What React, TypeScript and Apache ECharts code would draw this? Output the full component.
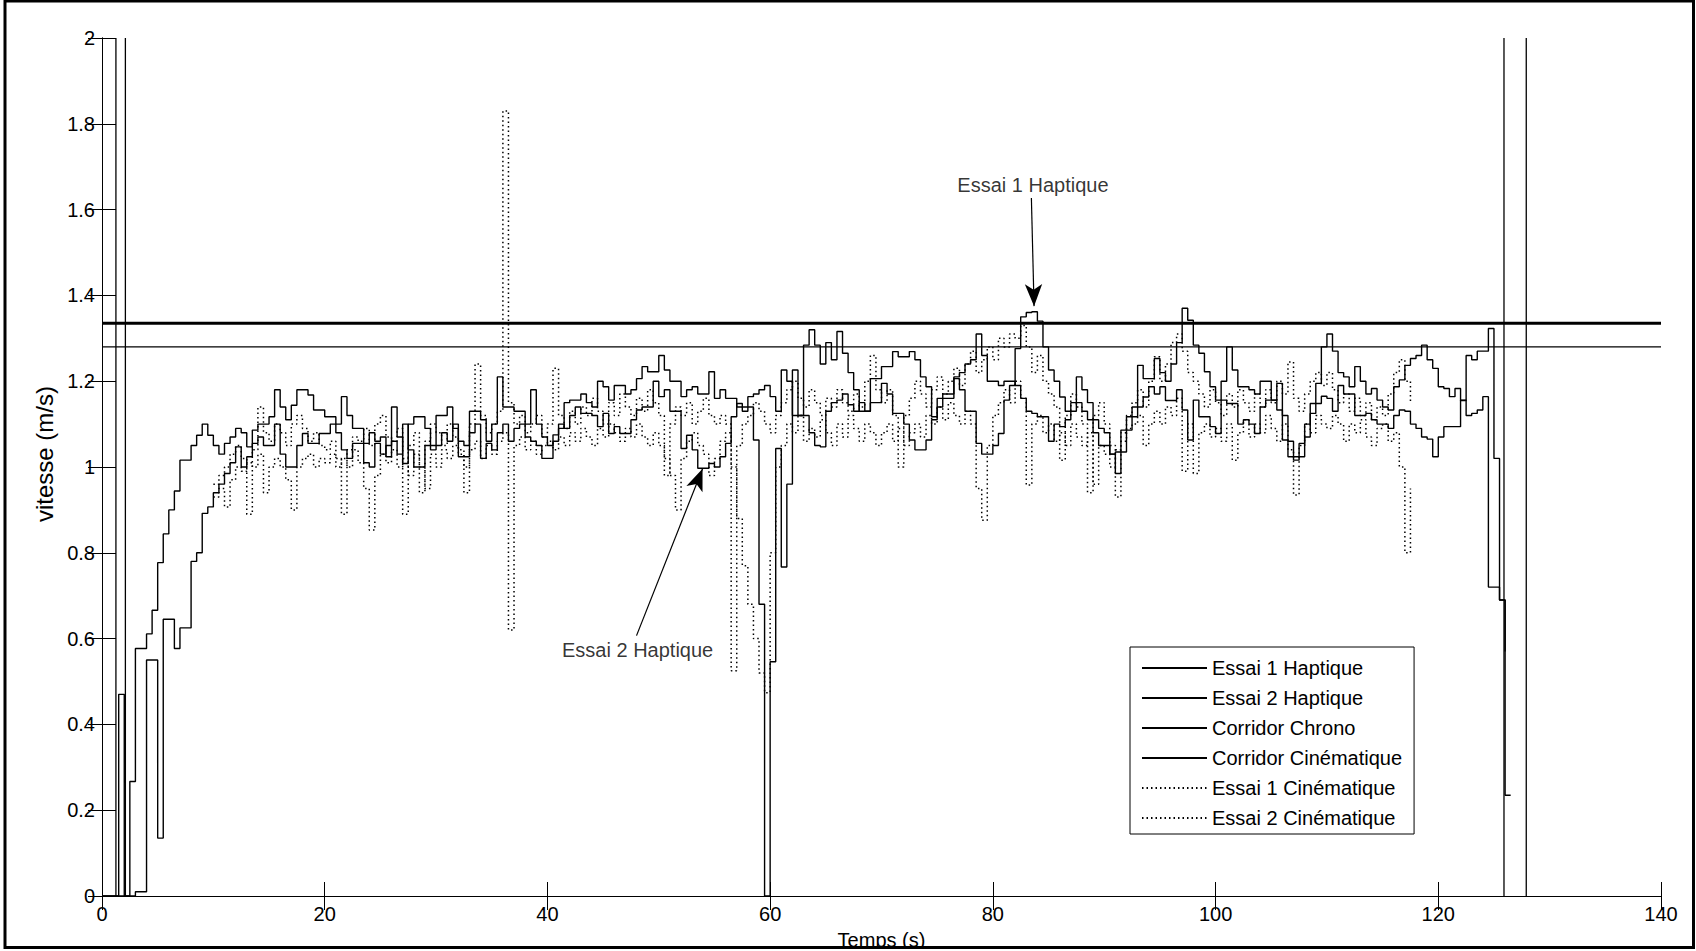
import React, { useEffect, useRef } from 'react';
import * as echarts from 'echarts';

// ---- sampling ----
const SAMPLE_STEP = 0.5; // s
const HAPTIQUE_START = 0; // s
const CINEMATIQUE_START = 10; // s

// ---- axes ----
const xMin = 0;
const xMax = 140;
const xInterval = 20;
const yMin = 0;
const yMax = 2;
const yInterval = 0.2;

// ---- series values (m/s), one value every 0.5 s ----
const essai1Haptique = [
  // 0–9.5
  0, 0, 0, 0.47, 0, 0.267, 0.577, 0.577, 0.611, 0.666, 0.777, 0.844, 0.9, 0.944, 1.016, 1.016, 1.05, 1.074, 1.1, 1.074,
  // 10–19.5
  1.05, 1.03, 1.055, 1.07, 1.09, 1.08, 1.047, 1.086, 1.1, 1.1, 1.117, 1.18, 1.14, 1.11, 1.144, 1.18, 1.18, 1.168, 1.133, 1.133,
  // 20–29.5
  1.117, 1.117, 1.1, 1.164, 1.12, 1.09, 1.09, 1.055, 1.08, 1.06, 1.07, 1.024, 1.14, 1.07, 1.008, 1.1, 1.117, 1.117, 1.09, 1.05,
  // 30–39.5
  1.12, 1.12, 1.14, 1.09, 1.024, 1.024, 1.13, 1.13, 1.11, 1.06, 1.1, 1.21, 1.14, 1.14, 1.13, 1.13, 1.1, 1.18, 1.1, 1.07,
  // 40–49.5
  1.05, 1.075, 1.09, 1.15, 1.156, 1.156, 1.17, 1.15, 1.14, 1.2, 1.187, 1.156, 1.19, 1.19, 1.17, 1.18, 1.206, 1.234, 1.222, 1.222,
  // 50–59.5
  1.26, 1.226, 1.2, 1.2, 1.164, 1.18, 1.187, 1.17, 1.17, 1.222, 1.16, 1.18, 1.16, 1.16, 1.14, 1.13, 1.164, 1.17, 1.18, 1.19,
  // 60–69.5
  1.164, 1.13, 1.226, 1.2, 1.12, 1.12, 1.12, 1.08, 1.05, 1.047, 1.13, 1.15, 1.156, 1.17, 1.145, 1.13, 1.15, 1.13, 1.15, 1.15,
  // 70–79.5
  1.195, 1.17, 1.125, 1.125, 1.1, 1.063, 1.04, 1.04, 1.063, 1.11, 1.16, 1.17, 1.17, 1.206, 1.18, 1.13, 1.13, 1.055, 1.03, 1.03,
  // 80–89.5
  1.05, 1.078, 1.156, 1.19, 1.276, 1.35, 1.36, 1.362, 1.34, 1.28, 1.226, 1.2, 1.163, 1.13, 1.13, 1.21, 1.18, 1.15, 1.11, 1.09,
  // 90–99.5
  1.08, 1.03, 0.985, 1.035, 1.086, 1.117, 1.237, 1.206, 1.206, 1.253, 1.22, 1.2, 1.24, 1.29, 1.37, 1.342, 1.284, 1.265, 1.222, 1.187,
  // 100–109.5
  1.156, 1.2, 1.28, 1.226, 1.187, 1.187, 1.18, 1.17, 1.2, 1.2, 1.156, 1.195, 1.12, 1.06, 1.024, 1.024, 1.07, 1.125, 1.195, 1.28,
  // 110–119.5
  1.31, 1.27, 1.22, 1.21, 1.187, 1.234, 1.2, 1.17, 1.183, 1.156, 1.14, 1.133, 1.187, 1.203, 1.237, 1.253, 1.26, 1.284, 1.25, 1.23,
  // 120–126.5
  1.187, 1.183, 1.164, 1.183, 1.155, 1.26, 1.25, 1.27, 1.27, 1.323, 1.02, 0.69, 0.235, 0.235,
];

const essai2Haptique = [
  // 0–9.5
  0, 0, 0, 0, 0, 0, 0.01, 0.01, 0.55, 0.55, 0.135, 0.645, 0.645, 0.577, 0.625, 0.625, 0.78, 0.8, 0.892, 0.907,
  // 10–19.5
  0.94, 0.96, 0.985, 1.01, 1.047, 1.0, 1.024, 1.055, 1.07, 1.05, 1.05, 1.1, 1.03, 1.0, 1.0, 1.05, 1.078, 1.055, 1.055, 1.078,
  // 20–29.5
  1.078, 1.1, 1.08, 1.04, 1.02, 1.055, 1.055, 1.01, 1.0, 1.055, 1.03, 1.05, 1.06, 1.03, 1.1, 1.04, 1.0, 1.0, 1.05, 1.04,
  // 30–39.5
  1.05, 1.08, 1.06, 1.1, 1.06, 1.05, 1.08, 1.1, 1.02, 1.055, 1.04, 1.08, 1.1, 1.06, 1.09, 1.1, 1.07, 1.06, 1.05, 1.02,
  // 40–49.5
  1.02, 1.06, 1.1, 1.09, 1.12, 1.14, 1.125, 1.125, 1.12, 1.094, 1.125, 1.078, 1.094, 1.078, 1.078, 1.11, 1.133, 1.14, 1.14, 1.2,
  // 50–59.5
  1.164, 1.18, 1.13, 1.13, 1.043, 1.074, 1.04, 0.997, 0.997, 1.008, 1.0, 1.024, 1.055, 1.117, 1.148, 1.14, 1.14, 1.063, 0.68, 0,
  // 60–69.5
  0.546, 1.043, 0.767, 0.96, 1.226, 1.12, 1.284, 1.32, 1.284, 1.24, 1.29, 1.25, 1.316, 1.265, 1.22, 1.18, 1.13, 1.13, 1.206, 1.206,
  // 70–79.5
  1.234, 1.234, 1.269, 1.257, 1.257, 1.269, 1.25, 1.21, 1.187, 1.117, 1.14, 1.16, 1.16, 1.21, 1.22, 1.24, 1.25, 1.31, 1.26, 1.2,
  // 80–89.5
  1.2, 1.19, 1.2, 1.2, 1.19, 1.16, 1.13, 1.125, 1.117, 1.117, 1.06, 1.1, 1.094, 1.11, 1.15, 1.15, 1.13, 1.11, 1.08, 1.05,
  // 90–99.5
  1.05, 1.03, 1.035, 1.086, 1.117, 1.14, 1.14, 1.163, 1.187, 1.17, 1.187, 1.155, 1.155, 1.18, 1.133, 1.063, 1.156, 1.117, 1.117, 1.094,
  // 100–109.5
  1.078, 1.156, 1.148, 1.148, 1.1, 1.11, 1.1, 1.078, 1.14, 1.156, 1.156, 1.133, 1.063, 1.024, 1.016, 1.055, 1.1, 1.148, 1.148, 1.165,
  // 110–119.5
  1.16, 1.13, 1.19, 1.17, 1.17, 1.12, 1.12, 1.125, 1.11, 1.1, 1.1, 1.09, 1.12, 1.133, 1.13, 1.1, 1.09, 1.07, 1.065, 1.024,
  // 120–126
  1.07, 1.094, 1.094, 1.094, 1.156, 1.12, 1.125, 1.133, 1.164, 0.72, 0.72, 0.69, 0.57,
];

const essai1Cinematique = [
  // 10–19.5
  0.96, 0.98, 1.0, 1.03, 1.05, 1.02, 0.89, 1.04, 1.14, 1.08, 1.06, 1.1, 1.08, 1.05, 1.1, 1.12, 1.09, 1.06, 1.08, 1.05,
  // 20–29.5
  1.04, 1.06, 1.02, 0.89, 1.04, 1.07, 1.06, 1.09, 1.05, 1.1, 1.12, 1.07, 1.06, 1.09, 0.89, 1.05, 1.08, 0.94, 1.06, 1.1,
  // 30–39.5
  1.08, 1.05, 1.1, 1.07, 1.04, 0.94, 1.1, 1.24, 1.12, 1.08, 1.1, 1.13, 1.83, 1.15, 1.1, 1.12, 1.08, 1.1, 1.12, 1.07,
  // 40–49.5
  1.1, 1.23, 1.12, 1.09, 1.13, 1.1, 1.14, 1.12, 1.16, 1.13, 1.1, 1.15, 1.12, 1.17, 1.14, 1.12, 1.16, 1.13, 1.18, 1.15,
  // 50–59.5
  1.12, 0.98, 1.1, 1.14, 1.12, 1.15, 1.1, 1.13, 1.16, 1.12, 1.1, 1.12, 1.1, 0.525, 1.05, 1.1, 1.12, 1.15, 1.13, 1.1,
  // 60–69.5
  1.08, 1.12, 1.15, 1.18, 1.2, 1.16, 1.14, 1.18, 1.15, 1.12, 1.16, 1.14, 1.18, 1.15, 1.13, 1.17, 1.14, 1.2, 1.26, 1.18,
  // 70–79.5
  1.15, 1.18, 1.12, 1.0, 1.12, 1.16, 1.2, 1.17, 1.14, 1.18, 1.21, 1.17, 1.2, 1.23, 1.19, 1.24, 1.27, 1.22, 1.25, 1.28,
  // 80–89.5
  1.25, 1.3, 1.28, 1.31, 1.3, 1.33, 1.28, 1.22, 1.26, 1.2, 1.17, 1.14, 1.016, 1.12, 1.17, 1.14, 1.1, 0.94, 1.12, 1.15,
  // 90–99.5
  1.1, 1.05, 0.93, 1.08, 1.12, 1.15, 1.18, 1.14, 1.2, 1.257, 1.2, 1.24, 1.29, 1.31, 1.27, 1.22, 1.2, 1.17, 1.14, 1.18,
  // 100–109.5
  1.15, 1.12, 1.17, 1.14, 1.18, 1.15, 1.13, 1.17, 1.14, 1.18, 1.15, 1.2, 1.17, 1.245, 1.16, 1.13, 1.17, 1.2, 1.22, 1.19,
  // 110–117.5
  1.22, 1.18, 1.15, 1.17, 1.13, 1.16, 1.12, 1.15, 1.11, 1.14, 1.12, 1.17, 1.22, 1.25, 1.2, 1.15,
];

const essai2Cinematique = [
  // 10–19.5
  0.93, 0.95, 0.907, 0.97, 1.0, 0.99, 1.01, 1.0, 1.03, 0.94, 1.0, 1.02, 1.0, 0.97, 0.9, 1.0, 1.02, 1.03, 1.0, 1.02,
  // 20–29.5
  1.01, 1.03, 1.0, 1.02, 1.0, 1.04, 1.01, 0.95, 0.853, 0.98, 1.03, 1.01, 1.04, 1.0, 1.02, 0.98, 1.03, 1.0, 0.95, 1.03,
  // 30–39.5
  1.0, 1.04, 1.02, 1.05, 1.03, 1.0, 1.04, 1.06, 1.02, 1.05, 1.03, 1.06, 1.08, 0.62, 1.05, 1.07, 1.04, 1.06, 1.03, 1.05,
  // 40–49.5
  1.06, 1.04, 1.07, 1.05, 1.08, 1.06, 1.09, 1.07, 1.05, 1.09, 1.07, 1.1, 1.08, 1.06, 1.09, 1.07, 1.1, 1.07, 1.05, 1.08,
  // 50–59.5
  1.05, 1.02, 0.98, 0.9, 1.02, 1.06, 1.08, 1.05, 1.03, 0.98, 1.02, 1.06, 1.08, 1.0, 0.88, 0.77, 0.68, 0.6, 0.52, 0.474,
  // 60–69.5
  0.8, 1.0, 1.05, 1.1, 1.08, 1.12, 1.06, 1.09, 1.07, 1.11, 1.08, 1.05, 1.1, 1.07, 1.12, 1.09, 1.06, 1.1, 1.08, 1.05,
  // 70–79.5
  1.08, 1.1, 1.06, 1.09, 1.05, 1.08, 1.1, 1.07, 1.12, 1.1, 1.14, 1.11, 1.15, 1.12, 1.1, 1.13, 1.1, 0.95, 0.876, 1.05,
  // 80–89.5
  1.12, 1.15, 1.18, 1.15, 1.2, 1.16, 0.958, 1.1, 1.12, 1.08, 1.1, 1.06, 1.08, 1.05, 1.1, 1.07, 1.05, 1.08, 0.96, 1.05,
  // 90–99.5
  1.03, 1.0, 1.04, 1.06, 1.09, 1.1, 1.12, 1.05, 1.1, 1.13, 1.1, 1.14, 1.12, 1.16, 0.99, 1.1, 0.985, 1.08, 1.1, 1.07,
  // 100–109.5
  1.09, 1.06, 1.1, 1.016, 1.08, 1.11, 1.07, 1.1, 1.08, 1.12, 1.09, 1.06, 1.1, 1.04, 0.935, 1.05, 1.1, 1.08, 1.12, 1.1,
  // 110–117.5
  1.09, 1.12, 1.1, 1.06, 1.1, 1.08, 1.11, 1.07, 1.05, 1.09, 1.1, 1.06, 1.08, 1.0, 0.8, 0.95,
];

// ---- corridors ----
const corridorChronoLevel = [1.335];
const corridorCinematiqueLevel = [1.28];
const corridorCinematiqueTimes = [1.25, 2.1, 125.9, 127.9];

// ---- annotations ----
const annotationLabels = ['Essai 1 Haptique', 'Essai 2 Haptique'];
const annotationTextX = [83.6, 48.1];
const annotationTextY = [1.657, 0.573];
const arrowFromX = [83.46, 48.0];
const arrowFromY = [1.627, 0.607];
const arrowToX = [83.7, 53.93];
const arrowToY = [1.375, 0.996];

const legendNames = [
  'Essai 1 Haptique',
  'Essai 2 Haptique',
  'Corridor Chrono',
  'Corridor Cinématique',
  'Essai 1 Cinématique',
  'Essai 2 Cinématique',
];

const FONT = "'Liberation Sans', Arial, Helvetica, sans-serif";

const toPairs = (vals: number[], start: number) =>
  vals.map((v, i) => [start + i * SAMPLE_STEP, v]);

export default function App() {
  const ref = useRef<HTMLDivElement>(null);

  useEffect(() => {
    document.body.style.margin = '0';
    document.body.style.overflow = 'hidden';
    const chart = echarts.init(ref.current as HTMLDivElement, null, { renderer: 'svg' });

    const solid = (w: number) => ({ color: '#000', width: w, type: 'solid' as const });
    const dotted = { color: '#000', width: 1.5, type: [1.5, 3] as any };

    const series: any[] = [
      {
        name: legendNames[0],
        type: 'line',
        step: 'end',
        symbol: 'none',
        data: toPairs(essai1Haptique, HAPTIQUE_START),
        lineStyle: solid(1.4),
        itemStyle: { color: '#000' },
        z: 4,
      },
      {
        name: legendNames[1],
        type: 'line',
        step: 'end',
        symbol: 'none',
        data: toPairs(essai2Haptique, HAPTIQUE_START),
        lineStyle: solid(1.4),
        itemStyle: { color: '#000' },
        z: 4,
      },
      {
        name: legendNames[2],
        type: 'line',
        symbol: 'none',
        data: [
          [xMin, corridorChronoLevel[0]],
          [xMax, corridorChronoLevel[0]],
        ],
        lineStyle: solid(3),
        itemStyle: { color: '#000' },
        z: 3,
      },
      {
        name: legendNames[3],
        type: 'line',
        symbol: 'none',
        data: [
          [xMin, corridorCinematiqueLevel[0]],
          [xMax, corridorCinematiqueLevel[0]],
        ],
        lineStyle: solid(1.3),
        itemStyle: { color: '#000' },
        z: 3,
      },
      ...corridorCinematiqueTimes.map((t) => ({
        name: legendNames[3],
        type: 'line',
        symbol: 'none',
        data: [
          [t, yMin],
          [t, yMax],
        ],
        lineStyle: solid(1.3),
        itemStyle: { color: '#000' },
        z: 3,
      })),
      {
        name: legendNames[4],
        type: 'line',
        step: 'end',
        symbol: 'none',
        data: toPairs(essai1Cinematique, CINEMATIQUE_START),
        lineStyle: dotted,
        itemStyle: { color: '#000' },
        z: 2,
      },
      {
        name: legendNames[5],
        type: 'line',
        step: 'end',
        symbol: 'none',
        data: toPairs(essai2Cinematique, CINEMATIQUE_START),
        lineStyle: dotted,
        itemStyle: { color: '#000' },
        z: 2,
      },
      {
        name: 'annotations',
        type: 'scatter',
        symbolSize: 0,
        silent: true,
        z: 6,
        data: annotationLabels.map((label, i) => ({
          name: label,
          value: [annotationTextX[i], annotationTextY[i]],
        })),
        label: {
          show: true,
          position: 'inside',
          formatter: '{b}',
          color: '#000',
          fontSize: 20,
          fontFamily: FONT,
        },
        markLine: {
          silent: true,
          symbol: ['none', 'arrow'],
          symbolSize: [13, 22],
          lineStyle: { color: '#000', width: 1.2, type: 'solid' },
          label: { show: false },
          data: annotationLabels.map((_, i) => [
            { coord: [arrowFromX[i], arrowFromY[i]] },
            { coord: [arrowToX[i], arrowToY[i]] },
          ]),
        },
      },
    ];

    const axisLine = { show: true, lineStyle: { color: '#000', width: 1 } };
    const axisTick = { show: true, inside: true, length: 14, lineStyle: { color: '#000', width: 1 } };
    const axisLabel = { color: '#000', fontSize: 20, fontFamily: FONT };

    chart.setOption({
      animation: false,
      backgroundColor: '#fff',
      grid: {
        left: 102,
        right: 35,
        top: 38,
        bottom: 55,
        containLabel: false,
        outerBoundsMode: 'none',
      },
      xAxis: [
        {
          type: 'value',
          min: xMin,
          max: xMax,
          interval: xInterval,
          position: 'bottom',
          axisLine,
          axisTick,
          axisLabel: { ...axisLabel, margin: 8 },
          splitLine: { show: false },
          name: 'Temps (s)',
          nameLocation: 'middle',
          nameGap: 34,
          nameTextStyle: { color: '#000', fontSize: 20, fontFamily: FONT },
        },
        {
          type: 'value',
          min: xMin,
          max: xMax,
          interval: xInterval,
          position: 'top',
          axisLine,
          axisTick,
          axisLabel: { show: false },
          splitLine: { show: false },
        },
      ],
      yAxis: [
        {
          type: 'value',
          min: yMin,
          max: yMax,
          interval: yInterval,
          position: 'left',
          axisLine,
          axisTick,
          axisLabel: { ...axisLabel, margin: 7 },
          splitLine: { show: false },
          name: 'vitesse (m/s)',
          nameLocation: 'middle',
          nameGap: 45,
          nameTextStyle: { color: '#000', fontSize: 24, fontFamily: FONT, padding: [0, 0, 0, 26] },
        },
        {
          type: 'value',
          min: yMin,
          max: yMax,
          interval: yInterval,
          position: 'right',
          axisLine,
          axisTick,
          axisLabel: { show: false },
          splitLine: { show: false },
        },
      ],
      legend: {
        data: legendNames,
        orient: 'vertical',
        left: 1130,
        top: 647,
        padding: [11, 12, 6, 11],
        itemWidth: 65,
        itemHeight: 14,
        itemGap: 10,
        selectedMode: false,
        backgroundColor: '#fff',
        borderColor: '#000',
        borderWidth: 1,
        borderRadius: 0,
        itemStyle: { opacity: 0, borderWidth: 0 },
        textStyle: { color: '#000', fontSize: 20, lineHeight: 20, fontFamily: FONT },
      },
      graphic: [
        {
          type: 'rect',
          z: 100,
          silent: true,
          shape: { x: 0, y: 949, width: 1696, height: 2 },
          style: { fill: '#fff' },
        },
        {
          type: 'rect',
          z: 101,
          silent: true,
          shape: { x: 5, y: 1, width: 1688.5, height: 946.5 },
          style: { fill: 'none', stroke: '#000', lineWidth: 3 },
        },
      ],
      series,
    });

    return () => chart.dispose();
  }, []);

  return (
    <div
      ref={ref}
      style={{ position: 'absolute', left: 0, top: 0, width: 1696, height: 951, background: '#fff' }}
    />
  );
}
